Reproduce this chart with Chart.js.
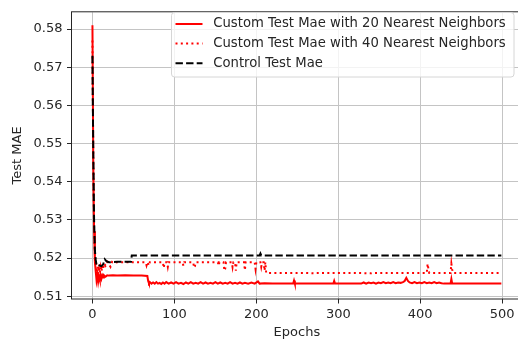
<!DOCTYPE html>
<html><head><meta charset="utf-8">
<script src="https://cdn.jsdelivr.net/npm/chart.js@4"></script>
<style>html,body{margin:0;padding:0;overflow:hidden;background:#fff}#wrap{width:524px;height:342px;position:relative}</style>
</head><body><div id="wrap"><canvas id="c" width="524" height="342"></canvas></div>
<script>
// ---- data ----
const xTicks = [0, 100, 200, 300, 400, 500];
const yTicks = [0.51, 0.52, 0.53, 0.54, 0.55, 0.56, 0.57, 0.58];
const seriesLabels = ['Custom Test Mae with 20 Nearest Neighbors', 'Custom Test Mae with 40 Nearest Neighbors', 'Control Test Mae'];

const epochs20 = [0,1,2,3,4,5,6,7,8,9,10,11,12,13,14,16,18,20,25,30,40,50,60,67,68,69,70,72,74,76,78,80,82,84,86,88,90,93,96,99,102,105,108,111,114,117,120,123,126,129,132,135,138,141,144,147,150,153,156,159,162,165,168,171,174,177,180,183,186,190,194,198,202,204,210,220,230,245,246,247,260,280,294,295,296,320,328,331,334,337,340,343,346,349,352,355,358,361,364,367,370,373,376,379,381,383,385,387,390,393,396,399,402,405,408,411,414,417,420,423,426,429,437,438,439,460,480,499];
const mae20 = [0.5810,0.5450,0.5270,0.5190,0.5165,0.5142,0.5156,0.5138,0.5152,0.5143,0.5155,0.5146,0.5154,0.5149,0.5155,0.5151,0.5155,0.5154,0.5155,0.5154,0.5155,0.5154,0.5154,0.5153,0.5140,0.5134,0.5137,0.5133,0.5136,0.5133,0.5137,0.5133,0.5135,0.5132,0.5136,0.5133,0.5137,0.5133,0.5136,0.5133,0.5137,0.5133,0.5135,0.5132,0.5136,0.5133,0.5137,0.5133,0.5135,0.5133,0.5137,0.5133,0.5136,0.5133,0.5135,0.5133,0.5137,0.5133,0.5136,0.5133,0.5135,0.5133,0.5137,0.5133,0.5135,0.5133,0.5136,0.5133,0.5135,0.5133,0.5136,0.5133,0.5139,0.5133,0.5134,0.5133,0.5133,0.5133,0.5141,0.5133,0.5133,0.5133,0.5133,0.5140,0.5133,0.5133,0.5133,0.5136,0.5133,0.5136,0.5134,0.5136,0.5133,0.5136,0.5134,0.5137,0.5134,0.5136,0.5134,0.5137,0.5134,0.5136,0.5135,0.5137,0.5140,0.5148,0.5140,0.5136,0.5134,0.5137,0.5134,0.5136,0.5134,0.5137,0.5134,0.5136,0.5134,0.5137,0.5134,0.5136,0.5134,0.5133,0.5133,0.5145,0.5133,0.5133,0.5133,0.5133];

const epochs40 = [0,1,2,3,4,5,6,7,8,9,10,11,12,13,14,16,18,20,22,24,26,30,40,50,60,65,66,67,69,70,86,87,88,91,92,93,110,111,112,123,124,125,126,140,153,154,155,160,161,162,163,170,171,172,174,175,176,185,186,187,198,199,200,205,206,207,209,210,211,212,260,270,272,300,320,340,342,380,408,409,410,411,437,438,439,440,499];
const mae40 = [0.5770,0.5460,0.5280,0.5210,0.5180,0.5162,0.5178,0.5152,0.5170,0.5160,0.5176,0.5165,0.5180,0.5170,0.5186,0.5180,0.5190,0.5184,0.5177,0.5190,0.5188,0.5189,0.5189,0.5189,0.5189,0.5189,0.5181,0.5189,0.5180,0.5189,0.5189,0.5174,0.5189,0.5189,0.5177,0.5189,0.5189,0.5180,0.5189,0.5189,0.5175,0.5178,0.5189,0.5189,0.5189,0.5180,0.5189,0.5189,0.5167,0.5172,0.5189,0.5189,0.5176,0.5189,0.5189,0.5167,0.5189,0.5189,0.5168,0.5189,0.5189,0.5172,0.5189,0.5189,0.5177,0.5189,0.5189,0.5167,0.5189,0.5161,0.5161,0.5160,0.5161,0.5161,0.5161,0.5160,0.5161,0.5161,0.5161,0.5185,0.5172,0.5161,0.5161,0.5185,0.5170,0.5161,0.5161];

const epochsCtrl = [0,1,2,3,4,5,7,9,11,13,15,17,20,30,47,48,204,205,206,499];
const maeCtrl = [0.5730,0.5480,0.5300,0.5220,0.5195,0.5182,0.5184,0.5180,0.5179,0.5183,0.5197,0.5192,0.5189,0.5190,0.5190,0.5207,0.5207,0.5212,0.5207,0.5207];

// ---- chart ----
const FAMILY = "'DejaVu Sans', sans-serif";
const TXT = '#262626';
const toXY = (xs, ys) => xs.map((x, i) => ({x: x, y: ys[i]}));

const frameAndLegend = {
  id: 'frameAndLegend',
  afterDatasetsDraw(chart) {
    const {ctx, chartArea: a} = chart;
    ctx.save();
    ctx.strokeStyle = '#262626';
    ctx.lineWidth = 1;
    ctx.strokeRect(a.left - 0.5, a.top - 0.5, a.right - a.left + 1, a.bottom - a.top + 1);
    ctx.restore();
  },
  afterDraw(chart) {
    const ctx = chart.ctx;
    const x0 = 171.5, y0 = 12.5, w = 342.5, h = 64.5, r = 3;
    ctx.save();
    ctx.beginPath();
    ctx.moveTo(x0 + r, y0);
    ctx.arcTo(x0 + w, y0, x0 + w, y0 + h, r);
    ctx.arcTo(x0 + w, y0 + h, x0, y0 + h, r);
    ctx.arcTo(x0, y0 + h, x0, y0, r);
    ctx.arcTo(x0, y0, x0 + w, y0, r);
    ctx.closePath();
    ctx.fillStyle = 'rgba(255,255,255,0.8)';
    ctx.fill();
    ctx.strokeStyle = '#d6d6d6';
    ctx.lineWidth = 1;
    ctx.stroke();
    ctx.font = '13.2px ' + FAMILY;
    ctx.textBaseline = 'middle';
    ctx.textAlign = 'left';
    chart.data.datasets.forEach((ds, i) => {
      const cy = 24 + i * 19.6;
      ctx.beginPath();
      ctx.setLineDash(ds.borderDash || []);
      ctx.strokeStyle = ds.borderColor;
      ctx.lineWidth = 2;
      ctx.moveTo(175.5, cy);
      ctx.lineTo(202.5, cy);
      ctx.stroke();
      ctx.setLineDash([]);
      ctx.fillStyle = TXT;
      ctx.fillText(ds.label, 213.3, cy);
    });
    ctx.restore();
  }
};

new Chart(document.getElementById('c'), {
  type: 'line',
  data: {
    datasets: [
      {label: seriesLabels[0], data: toXY(epochs20, mae20), borderColor: '#ff0000', borderWidth: 2, order: 3},
      {label: seriesLabels[1], data: toXY(epochs40, mae40), borderColor: '#ff0000', borderWidth: 2, borderDash: [2, 3.3], order: 2},
      {label: seriesLabels[2], data: toXY(epochsCtrl, maeCtrl), borderColor: '#000000', borderWidth: 2, borderDash: [7.4, 3.2], order: 1}
    ]
  },
  options: {
    responsive: false,
    animation: false,
    devicePixelRatio: 1,
    layout: {padding: {top: 6, right: 2.2, left: 0, bottom: 0}},
    plugins: {legend: {display: false}, tooltip: {enabled: false}},
    elements: {point: {radius: 0}, line: {tension: 0, fill: false}},
    scales: {
      x: {
        type: 'linear', min: -24.95, max: 523.95,
        afterBuildTicks: s => { s.ticks = xTicks.map(v => ({value: v})); },
        afterFit: s => { s.height = 43.5; },
        grid: {color: '#c4c4c4', lineWidth: 1, tickColor: '#262626', tickLength: 5},
        border: {display: false},
        ticks: {font: {family: FAMILY, size: 13}, color: TXT, padding: 3, maxRotation: 0, callback: v => String(v)},
        title: {display: true, text: 'Epochs', font: {family: FAMILY, size: 13}, color: TXT, padding: {top: 0, bottom: 1.5}}
      },
      y: {
        type: 'linear', min: 0.5094, max: 0.5844,
        afterBuildTicks: s => { s.ticks = yTicks.map(v => ({value: v})); },
        afterFit: s => { s.width = 72; },
        grid: {color: '#c4c4c4', lineWidth: 1, tickColor: '#262626', tickLength: 5},
        border: {display: false},
        ticks: {font: {family: FAMILY, size: 13}, color: TXT, padding: 4.5, callback: v => Number(v).toFixed(2)},
        title: {display: true, text: 'Test MAE', font: {family: FAMILY, size: 13}, color: TXT, padding: {top: 10.2, bottom: 0}}
      }
    }
  },
  plugins: [frameAndLegend]
});
</script></body></html>
